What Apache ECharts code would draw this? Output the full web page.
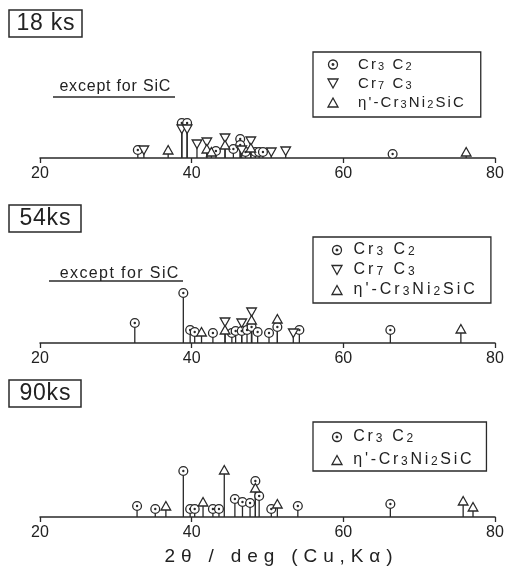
<!DOCTYPE html>
<html>
<head>
<meta charset="utf-8">
<script src="https://cdn.jsdelivr.net/npm/echarts@6/dist/echarts.min.js"></script>
<style>html,body{margin:0;padding:0;background:#fff;}#c{width:508px;height:567px;}</style>
</head>
<body>
<div id="c"></div>
<script>
// ---- data: [2theta (deg), marker height (arb. units)] ----
const panelTitles = ['18 ks', '54ks', '90ks'];
const xTicks = [20, 40, 60, 80];
const phaseNames = ['Cr3C2', 'Cr7C3', "η'-Cr3Ni2SiC"];
const noteText = 'except for SiC';
const xAxisTitle = '2θ / deg (Cu,Kα)';

const cr3c2_18 = [[32.9,8],[38.7,35],[39.4,35],[43.2,7],[45.5,9],[46.4,19],[46.4,13],[47.1,6],[48.4,6],[48.9,6],[49.4,6],[66.5,4]];
const cr7c3_18 = [[33.7,8],[38.7,29],[39.4,29],[40.7,14],[42.0,16],[44.4,20],[46.6,8],[47.8,17],[50.5,6],[52.4,7]];
const eta_18   = [[36.9,8],[42.0,9],[42.6,6],[44.4,13],[47.8,10],[76.2,6]];

const cr3c2_54 = [[32.5,20],[38.9,50],[39.8,13],[40.4,11],[42.8,10],[45.3,10],[45.8,12],[46.6,12],[47.3,13],[47.9,16],[48.7,11],[50.2,10],[51.3,16],[54.2,13],[66.2,13]];
const cr7c3_54 = [[44.4,21],[46.6,20],[47.9,31],[53.4,10]];
const eta_54   = [[41.3,11],[44.4,13],[47.9,23],[51.3,24],[75.5,14]];

const cr3c2_90 = [[32.8,11],[35.2,8],[38.9,46],[39.8,8],[40.4,8],[42.8,8],[43.6,8],[45.7,18],[46.7,15],[47.7,14],[48.4,36],[48.9,21],[50.5,8],[54.0,11],[66.2,13]];
const eta_90   = [[36.6,11],[41.5,15],[44.3,47],[48.4,29],[51.3,13],[75.8,16],[77.1,10]];

const FONT = '"Liberation Sans", Arial, sans-serif';
const INK = '#2a2a2a';

const panels = [
  {series: [cr3c2_18, cr7c3_18, eta_18], phases: [0,1,2]},
  {series: [cr3c2_54, cr7c3_54, eta_54], phases: [0,1,2]},
  {series: [cr3c2_90, eta_90], phases: [0,2]}
];

// letter-spaced rich text helpers
function spaced(str, key) {
  return str.split('').map(c => '{' + key + '|' + c + '}').join('');
}
function chemRich(name) {
  let out = '{g| }';
  const chars = name.split('');
  chars.forEach((c, i) => {
    const isDigit = /[0-9]/.test(c);
    if (name.indexOf('Ni') < 0 && c === 'C' && i > 0 && /[0-9]/.test(chars[i-1])) out += '{t| }';
    out += '{' + (isDigit ? 's' : 't') + '|' + c + '}';
  });
  return out;
}

function markerRender(kind) {
  return function (params, api) {
    const p = api.coord([api.value(0), api.value(1)]);
    const x = p[0], y = p[1];
    const st = {fill: '#fff', stroke: INK, lineWidth: 1.3};
    if (kind === 0) {
      return {type: 'group', children: [
        {type: 'circle', shape: {cx: x, cy: y, r: 4.4}, style: st},
        {type: 'circle', shape: {cx: x, cy: y, r: 1.2}, style: {fill: INK}}
      ]};
    }
    if (kind === 1) {
      return {type: 'polygon', shape: {points: [[x-4.8, y-4], [x+4.8, y-4], [x, y+4.5]]}, style: st};
    }
    return {type: 'polygon', shape: {points: [[x-4.8, y+4], [x+4.8, y+4], [x, y-4.5]]}, style: st};
  };
}
function stemRender(params, api) {
  const p0 = api.coord([api.value(0), 0]);
  const p1 = api.coord([api.value(0), api.value(1)]);
  return {type: 'line', shape: {x1: p0[0], y1: p0[1], x2: p1[0], y2: p1[1]}, style: {stroke: INK, lineWidth: 1.3}};
}

const axisTops = [98, 283, 457];
const grids = axisTops.map(t => ({left: 40, right: 13, top: t, height: 60}));
const xAxes = axisTops.map((t, i) => {
  const ax = {
    gridIndex: i, type: 'value', min: xTicks[0], max: xTicks[xTicks.length-1], interval: 20,
    axisLine: {lineStyle: {color: INK, width: 1.5}},
    axisTick: {length: 5, lineStyle: {color: INK, width: 1.3}},
    axisLabel: {color: '#222', fontSize: 16, margin: 8, fontFamily: FONT},
    splitLine: {show: false}
  };
  if (i === 2) {
    ax.name = spaced(xAxisTitle.replace(/ /g, '  ').split('').join(' ').replace(/   +/g, '   '), 'n');
    ax.nameLocation = 'middle';
    ax.nameGap = 30;
    ax.nameTextStyle = {fontSize: 19, color: '#222', fontFamily: FONT, padding: [0, 0, 0, 22],
      rich: {n: {fontSize: 19, color: '#222', fontFamily: FONT, padding: [0, 0.15, 0, 0.15]}}};
  }
  return ax;
});
const yAxes = axisTops.map((t, i) => ({gridIndex: i, type: 'value', min: 0, max: 60, show: false}));

const series = [];
panels.forEach((pn, i) => {
  series.push({type: 'custom', xAxisIndex: i, yAxisIndex: i, z: 1, silent: true,
    data: [].concat(...pn.series), renderItem: stemRender, encode: {x: 0, y: 1}});
  pn.series.forEach((d, k) => {
    const ph = pn.phases[k];
    series.push({type: 'custom', name: phaseNames[ph], xAxisIndex: i, yAxisIndex: i, z: 3,
      data: d, renderItem: markerRender(ph), encode: {x: 0, y: 1}});
  });
});

const icons = [
  'path://M5,0.5 A4.5,4.5 0 1,1 4.99,0.5 Z M5,4.2 A0.8,0.8 0 1,1 4.99,4.2 Z',
  'path://M0,0 L10,0 L5,9 Z',
  'path://M5,0 L10,9 L0,9 Z'
];
const legendCfg = [
  {top: 52, fs: 15, sp: 1.05, gap: 4, pad: [5, 17, 7, 13], g: 14},
  {top: 237, fs: 16, sp: 1.5, gap: 4, pad: [5, 16, 5, 17], g: 5},
  {top: 422, fs: 16, sp: 1.35, gap: 7, pad: [7, 15, 3, 17], g: 5}
];
const legends = panels.map((pn, i) => {
  const c = legendCfg[i];
  return {
    orient: 'vertical', left: 313, top: c.top, padding: c.pad,
    itemWidth: 10, itemHeight: 9, itemGap: c.gap,
    borderColor: INK, borderWidth: 1.3, selectedMode: false,
    data: pn.phases.map(ph => ({name: phaseNames[ph], icon: icons[ph],
      itemStyle: {color: ph === 0 ? 'none' : '#fff', borderColor: INK, borderWidth: 1.3}})),
    formatter: n => chemRich(n),
    textStyle: {fontFamily: FONT, color: '#222', fontSize: c.fs,
      rich: {g: {width: c.g, fontSize: c.fs},
             t: {fontSize: c.fs, fontFamily: FONT, color: '#222', padding: [0, c.sp, 0, c.sp]},
             s: {fontSize: c.fs - 4, fontFamily: FONT, color: '#222', verticalAlign: 'bottom', padding: [4, c.sp, 0, c.sp]}}}
  };
});

const titleTops = [10, 205, 380];
const titlePads = [[2, 7, 1, 7], [2, 10, 1, 10], [2, 10, 1, 10]];
const titles = panelTitles.map((t, i) => ({
  text: spaced(t, 'b'), left: 9, top: titleTops[i], padding: titlePads[i],
  borderColor: INK, borderWidth: 1.5,
  textStyle: {fontSize: 23, fontWeight: 'normal', color: '#222', fontFamily: FONT, lineHeight: 24,
    rich: {b: {fontSize: 23, color: '#222', fontFamily: FONT, lineHeight: 24, padding: [0, 0.4, 0, 0.4]}}}
}));
const noteCfg = [{top: 79, fs: 16, sp: 0.4}, {top: 266, fs: 16, sp: 0.7}];
noteCfg.forEach(c => titles.push({
  text: spaced(noteText, 'e'), left: 59, top: c.top, padding: 0,
  textStyle: {fontSize: c.fs, fontWeight: 'normal', color: '#222', fontFamily: FONT,
    rich: {e: {fontSize: c.fs, color: '#222', fontFamily: FONT, padding: [0, c.sp, 0, c.sp]}}}
}));

const chart = echarts.init(document.getElementById('c'), null, {renderer: 'canvas'});
chart.setOption({
  backgroundColor: '#fff',
  animation: false,
  title: titles,
  legend: legends,
  grid: grids,
  xAxis: xAxes,
  yAxis: yAxes,
  series: series,
  graphic: [
    {type: 'line', shape: {x1: 53, y1: 97, x2: 175, y2: 97}, style: {stroke: INK, lineWidth: 1.3}},
    {type: 'line', shape: {x1: 49, y1: 281, x2: 183, y2: 281}, style: {stroke: INK, lineWidth: 1.3}}
  ]
});
</script>
</body>
</html>
